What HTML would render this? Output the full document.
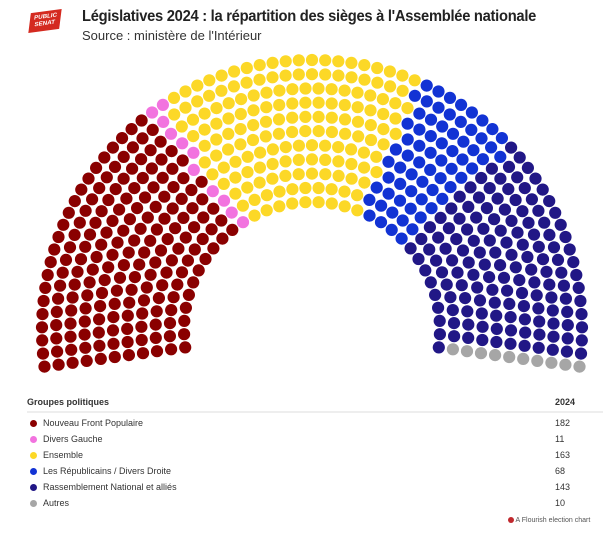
<!DOCTYPE html>
<html><head><meta charset="utf-8">
<style>
body{margin:0;width:614px;height:536px;background:#fff;font-family:"Liberation Sans",sans-serif;position:relative;overflow:hidden;color:#222}
.t{position:absolute;left:82px;top:8px;font-size:16px;font-weight:bold;letter-spacing:-0.3px;color:#222;transform:scaleX(0.92);transform-origin:0 0;white-space:nowrap}
.s{position:absolute;left:82px;top:28px;font-size:13px;color:#333}
.logo{position:absolute;left:30px;top:11px;width:30px;height:20px;background:#d42a20;transform:skewX(-15deg) rotate(-8deg);color:#fff;font-size:6px;font-weight:bold;line-height:7px;text-align:center;padding-top:3px;box-sizing:border-box}
.lg{position:absolute;left:27px;width:576px;font-size:9px;color:#333}
.hd{top:397px;font-weight:bold;border-bottom:2px solid #eee;height:14px}
.row{height:16px;line-height:16px}
.row span.d{display:inline-block;width:7px;height:7px;border-radius:50%;margin:0 6px 0 3px;vertical-align:-0.5px}
.n{position:absolute;left:528px}
.ft{position:absolute;left:508px;top:517px;font-size:7px;color:#555}
</style></head><body>
<div class="logo">PUBLIC<br>SENAT</div>
<div class="t">Législatives 2024 : la répartition des sièges à l'Assemblée nationale</div>
<div class="s">Source : ministère de l'Intérieur</div>
<svg id="c" width="614" height="390" style="position:absolute;left:0;top:0"></svg>
<div class="lg hd">Groupes politiques<span class="n">2024</span></div>
<div class="lg" style="top:415px">
<div class="row"><span class="d" style="background:#8a0000"></span>Nouveau Front Populaire<span class="n">182</span></div>
<div class="row"><span class="d" style="background:#f273df"></span>Divers Gauche<span class="n">11</span></div>
<div class="row"><span class="d" style="background:#fcd827"></span>Ensemble<span class="n">163</span></div>
<div class="row"><span class="d" style="background:#1233d4"></span>Les Républicains / Divers Droite<span class="n">68</span></div>
<div class="row"><span class="d" style="background:#211786"></span>Rassemblement National et alliés<span class="n">143</span></div>
<div class="row"><span class="d" style="background:#a6a6a6"></span>Autres<span class="n">10</span></div>
</div>
<div class="ft"><span style="display:inline-block;width:6px;height:6px;border-radius:50%;background:#c0282d;vertical-align:-1px"></span> A Flourish election chart</div>
<script>
var parties=[[182,"#8a0000"],[11,"#f273df"],[163,"#fcd827"],[68,"#1233d4"],[143,"#211786"],[10,"#a6a6a6"]];
var cx=312,cy=330,rin=128,rout=270,R=11,tilt=7.8*Math.PI/180,total=577;
var radii=[],sum=0;for(var i=0;i<R;i++){var r=rin+(rout-rin)*i/(R-1);radii.push(r);sum+=r;}
var counts=radii.map(function(r){return total*r/sum;});
var ci=counts.map(Math.floor),rem=total-ci.reduce(function(a,b){return a+b},0);
var fr=counts.map(function(c,i){return[c-Math.floor(c),i]}).sort(function(a,b){return b[0]-a[0]});
for(var k=0;k<rem;k++)ci[fr[k][1]]++;
var seats=[];
for(var i=0;i<R;i++){var n=ci[i];for(var j=0;j<n;j++){var f=j/(n-1);seats.push({f:Math.round(f*1e6),r:radii[i]});}}
seats.sort(function(a,b){return a.f-b.f||a.r-b.r;});
var svg="",idx=0;
parties.forEach(function(p){for(var k=0;k<p[0];k++){var s=seats[idx++];var a=Math.PI+tilt-(s.f/1e6)*(Math.PI+2*tilt);
var x=cx+s.r*Math.cos(a),y=cy-s.r*Math.sin(a);
svg+='<circle cx="'+x.toFixed(1)+'" cy="'+y.toFixed(1)+'" r="6.1" fill="'+p[1]+'"/>';}});
document.getElementById("c").innerHTML=svg;
</script>
</body></html>
